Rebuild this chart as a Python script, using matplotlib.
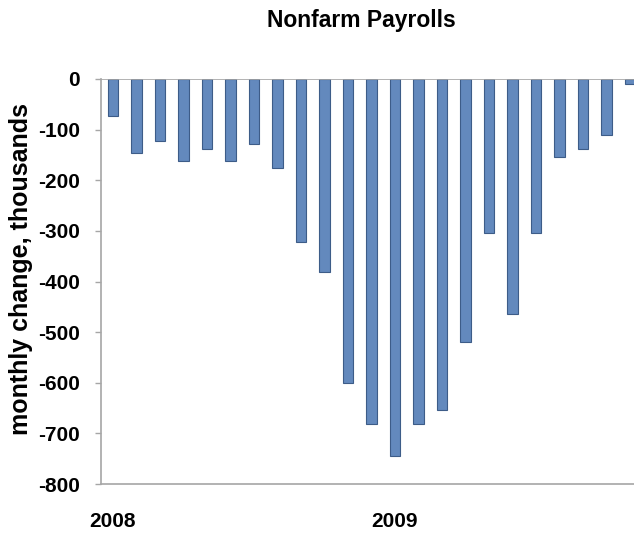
import matplotlib
matplotlib.use("Agg")
import matplotlib.pyplot as plt
import numpy as np

plt.rcParams['font.family'] = ['Liberation Sans', 'DejaVu Sans']

months = ["Jan 2008", "Feb 2008", "Mar 2008", "Apr 2008", "May 2008", "Jun 2008",
          "Jul 2008", "Aug 2008", "Sep 2008", "Oct 2008", "Nov 2008", "Dec 2008",
          "Jan 2009", "Feb 2009", "Mar 2009", "Apr 2009", "May 2009", "Jun 2009",
          "Jul 2009", "Aug 2009", "Sep 2009", "Oct 2009", "Nov 2009"]
payrolls = [-74, -146, -123, -162, -139, -162, -128, -176, -322,
            -381, -600, -682, -744, -682, -653, -520, -304, -464,
            -304, -154, -139, -111, -10]
year_ticks = [0, 12]
year_labels = ["2008", "2009"]
y_ticks = [0, -100, -200, -300, -400, -500, -600, -700, -800]

fig = plt.figure(figsize=(6.34, 5.34), dpi=100)
ax = fig.add_axes([101/634, 50/534, 1 - 101/634, (484-79)/534])

x = np.arange(len(payrolls))
ax.bar(x, payrolls, width=0.44, color="#6389bd", edgecolor="#3d5c88", linewidth=0.8, zorder=2)

ax.set_ylim(-800, 0)
ax.set_xlim(-0.51, 22.17)
ax.axhline(0, color="#a6a6a6", linewidth=1.2, zorder=3)

ax.set_yticks(y_ticks)
ax.set_yticklabels([str(v) for v in y_ticks], fontsize=15, fontweight="bold")
ax.set_xticks(year_ticks)
ax.set_xticklabels(year_labels, fontsize=15, fontweight="bold")
ax.tick_params(axis="y", direction="out", length=4, width=1, color="#a6a6a6", pad=11)
ax.tick_params(axis="x", length=0, pad=20)

for s in ["top", "right"]:
    ax.spines[s].set_visible(False)
for s in ["left", "bottom"]:
    ax.spines[s].set_color("#a6a6a6")
    ax.spines[s].set_linewidth(1.2)

ax.set_ylabel("monthly change, thousands", fontsize=18, fontweight="bold")
ax.yaxis.set_label_coords(-0.127, 0.53)

fig.text(361/634, 1 - 20/534, "Nonfarm Payrolls", ha="center", va="center",
         fontsize=16.5, fontweight="bold")

fig.savefig("out.png", dpi=100)
